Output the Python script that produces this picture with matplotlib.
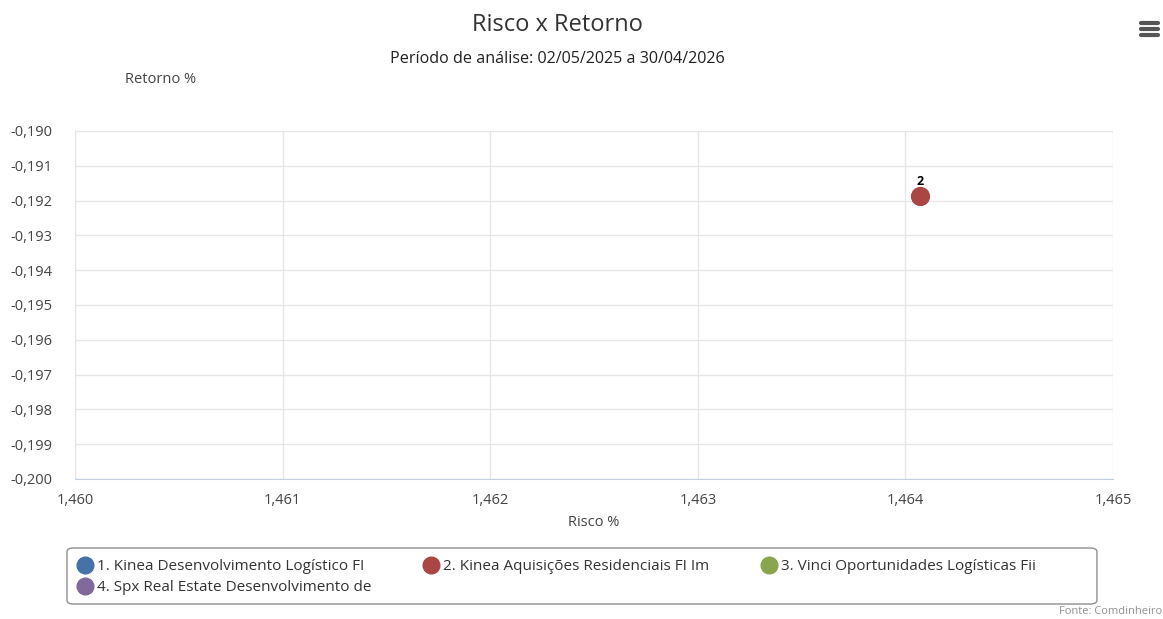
import matplotlib.pyplot as plt
from matplotlib.lines import Line2D
from matplotlib.patches import FancyBboxPatch
from matplotlib.ticker import FuncFormatter, MultipleLocator

plt.rcParams['font.family'] = ['Open Sans', 'DejaVu Sans']

# dados
fundos = ['1. Kinea Desenvolvimento Logístico FI',
          '2. Kinea Aquisições Residenciais FI Im',
          '3. Vinci Oportunidades Logísticas Fii',
          '4. Spx Real Estate Desenvolvimento de']
cores = ['#4572A7', '#AA4643', '#89A54E', '#80699B']
rotulos = ['1', '2', '3', '4']
# so o fundo 2 aparece dentro da escala do grafico
risco = [[], [1.46407], [], []]
retorno = [[], [-0.19187], [], []]

fig = plt.figure(figsize=(11.63, 6.19), dpi=100)
ax = fig.add_axes([0.0645, 0.2262, 0.8925, 0.5622])

for i in range(len(fundos)):
    ax.scatter(risco[i], retorno[i], s=165, color=cores[i], zorder=3, clip_on=False)
    for x, y in zip(risco[i], retorno[i]):
        ax.annotate(rotulos[i], (x, y), xytext=(0, 6), textcoords='offset points',
                    ha='center', va='bottom', fontsize=9, fontweight='bold', color='#000000')

ax.set_xlim(1.460, 1.465)
ax.set_ylim(-0.200, -0.190)
ax.xaxis.set_major_locator(MultipleLocator(0.001))
ax.yaxis.set_major_locator(MultipleLocator(0.001))
ax.xaxis.set_major_formatter(FuncFormatter(lambda v, p: f'{v:.3f}'.replace('.', ',')))
ax.yaxis.set_major_formatter(FuncFormatter(lambda v, p: f'{v:.3f}'.replace('.', ',')))
ax.grid(True, color='#e6e6e6', linewidth=1)
ax.set_axisbelow(True)
for s in ['top', 'right', 'left']:
    ax.spines[s].set_visible(False)
ax.spines['bottom'].set_color('#C0D0E0')
ax.tick_params(axis='both', length=0, labelsize=10.5)
ax.tick_params(axis='x', pad=10)
ax.tick_params(axis='y', pad=16)
for lb in ax.get_xticklabels() + ax.get_yticklabels():
    lb.set_color('#444444')

ax.set_xlabel('Risco %', fontsize=10.5, color='#444444', labelpad=5)

fig.text(0.479, 0.959, 'Risco x Retorno', ha='center', va='center', fontsize=17, color='#333333')
fig.text(0.479, 0.904, 'Período de análise: 02/05/2025 a 30/04/2026', ha='center', va='center',
         fontsize=11.6, color='#222222')
fig.text(0.1075, 0.872, 'Retorno %', ha='left', va='center', fontsize=10.5, color='#444444')
fig.text(0.999, 0.004, 'Fonte: Comdinheiro', ha='right', va='bottom', fontsize=8, color='#909090')

# icone de menu
for yy in [0.963, 0.953, 0.943]:
    fig.add_artist(Line2D([0.981, 0.996], [yy, yy], color='#555555', linewidth=3,
                          solid_capstyle='round'))

# caixa da legenda
fig.add_artist(FancyBboxPatch((0.0576, 0.0242), 0.8856, 0.0905,
                              boxstyle='round,pad=0,rounding_size=0.006',
                              transform=fig.transFigure, facecolor='white',
                              edgecolor='#909090', linewidth=1))

# ordem para preencher por linha
ordem = [0, 3, 1, 2]
handles = [Line2D([], [], marker='o', linestyle='', markersize=12, color=cores[i]) for i in ordem]
leg = fig.legend(handles, [fundos[i] for i in ordem], loc='upper left', ncol=3, fontsize=11,
                 frameon=False, handletextpad=0.3, columnspacing=3.4, labelspacing=0.4,
                 borderpad=0.5, handlelength=1.0)
leg.set_bbox_to_anchor((0.0533, 0.1212), transform=fig.transFigure)
for t in leg.get_texts():
    t.set_color('#333333')

fig.savefig('out.png', dpi=100)
